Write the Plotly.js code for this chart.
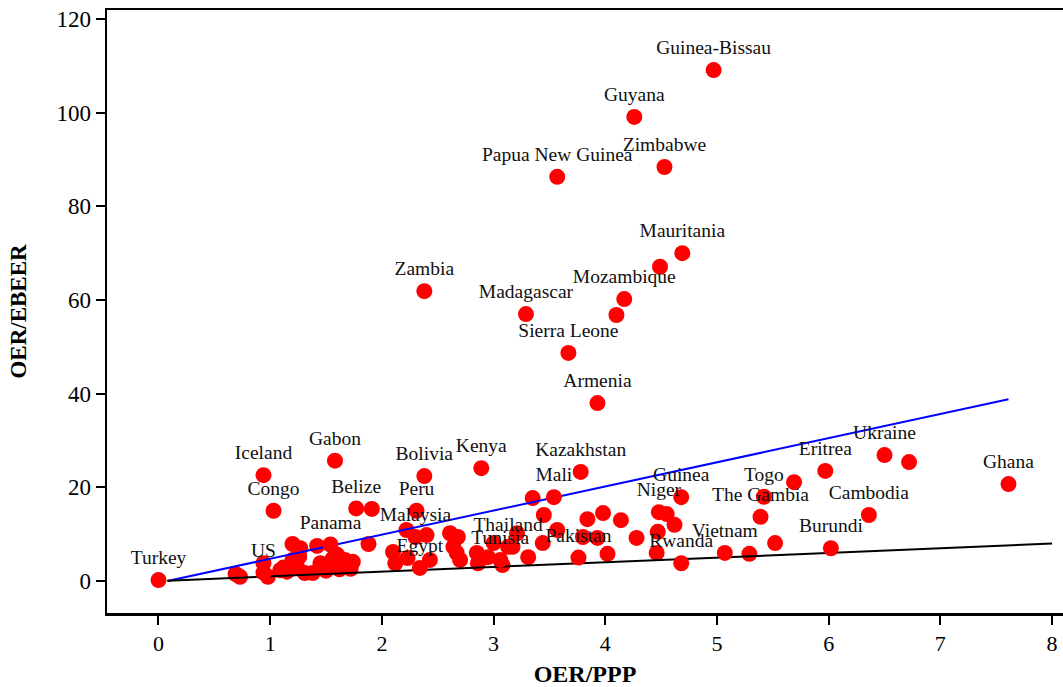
<!DOCTYPE html>
<html>
<head>
<meta charset="utf-8">
<script src="https://cdn.plot.ly/plotly-3.0.1.min.js"></script>
<style>
  html, body { margin: 0; padding: 0; background: #fff; }
  #chart { width: 1063px; height: 687px; }
</style>
</head>
<body>
<div id="chart"></div>
<script>
// Labelled countries: OER/PPP vs OER/EBEER
const labelNames = [
  "Turkey", "US", "Iceland", "Congo", "Gabon", "Panama", "Belize", "Bolivia",
  "Peru", "Malaysia", "Egypt", "Kenya", "Tunisia", "Thailand", "Kazakhstan",
  "Mali", "Pakistan", "Niger", "Guinea", "Rwanda", "Vietnam", "Togo",
  "The Gambia", "Eritrea", "Burundi", "Cambodia", "Ukraine", "Ghana",
  "Zambia", "Madagascar", "Sierra Leone", "Armenia", "Mozambique",
  "Mauritania", "Papua New Guinea", "Zimbabwe", "Guyana", "Guinea-Bissau"
];
const labelPPP = [
  0.00, 0.94, 0.94, 1.03, 1.58, 1.54, 1.77, 2.38,
  2.31, 2.30, 2.34, 2.89, 3.06, 3.13, 3.78,
  3.54, 3.76, 4.48, 4.68, 4.68, 5.07, 5.42,
  5.39, 5.97, 6.02, 6.36, 6.50, 7.61,
  2.38, 3.29, 3.67, 3.93, 4.17,
  4.69, 3.57, 4.53, 4.26, 4.97
];
const labelEBEER = [
  0.2, 1.8, 22.6, 15.0, 25.7, 7.8, 15.5, 22.4,
  15.0, 9.4, 2.8, 24.1, 4.5, 7.3, 23.3,
  17.9, 5.0, 14.7, 17.9, 3.8, 6.0, 18.0,
  13.7, 23.5, 7.0, 14.1, 26.9, 20.7,
  61.9, 57.0, 48.7, 38.0, 60.2,
  70.0, 86.3, 88.4, 99.1, 109.1
];

// Remaining countries (unlabelled)
const otherPPP = [
  4.49, 4.10, 5.69, 6.72, 1.91, 3.35,
  0.69, 0.73, 0.94, 0.98, 1.09, 1.15, 1.20, 1.27, 1.20, 1.24, 1.31,
  1.42, 1.60, 1.54, 1.45, 1.38, 1.69, 1.67, 1.74, 1.88, 2.10, 2.12,
  2.43, 2.23, 2.22, 2.40, 2.61, 2.68, 2.67, 2.70, 2.64, 2.85, 2.86,
  3.00, 3.08, 3.17, 2.95, 3.31, 3.21, 3.45, 3.57, 3.44, 3.84, 3.98,
  4.14, 3.80, 3.93, 4.02, 4.55, 4.62, 4.47, 4.46, 4.28, 5.29, 5.52,
  1.50, 1.56, 1.62, 1.72, 1.26, 1.12
];
const otherEBEER = [
  67.1, 56.8, 21.1, 25.4, 15.4, 17.7,
  1.5, 0.9, 3.8, 0.9, 2.3, 2.0, 7.9, 7.0, 4.5, 3.0, 1.7,
  7.5, 5.6, 3.0, 3.8, 1.7, 3.0, 4.5, 4.1, 7.9, 6.2, 3.8,
  4.5, 4.9, 10.9, 9.8, 10.2, 9.4, 6.0, 4.5, 7.3, 6.0, 3.8,
  8.1, 3.4, 7.3, 5.1, 5.1, 10.2, 14.1, 10.9, 8.1, 13.2, 14.5,
  13.0, 9.4, 9.2, 5.8, 14.3, 12.0, 10.5, 6.0, 9.2, 5.8, 8.1,
  2.2, 4.8, 2.5, 2.6, 5.2, 2.9
];

// Fitted line (blue) and 45-degree reference line (black)
const fitX = [0.08, 7.61];
const fitY = [0.0, 38.8];
const diagX = [0.08, 8.0];
const diagY = [0.08, 8.0];

const serif = "Liberation Serif, Times New Roman, serif";

const traces = [
  {
    x: otherPPP, y: otherEBEER, type: "scatter", mode: "markers",
    marker: { color: "#ff0000", size: 16 }, hoverinfo: "skip", cliponaxis: false
  },
  {
    x: fitX, y: fitY, type: "scatter", mode: "lines",
    line: { color: "#0000ff", width: 2 }, hoverinfo: "skip"
  },
  {
    x: diagX, y: diagY, type: "scatter", mode: "lines",
    line: { color: "#000000", width: 2 }, hoverinfo: "skip"
  },
  {
    x: labelPPP, y: labelEBEER, text: labelNames, type: "scatter",
    mode: "markers+text", textposition: "top center",
    textfont: { family: serif, size: 19.5, color: "#111" },
    marker: { color: "#ff0000", size: 16 }, hoverinfo: "skip", cliponaxis: false
  }
];

const layout = {
  width: 1063, height: 687,
  margin: { l: 107, r: 0, t: 10, b: 74 },
  paper_bgcolor: "#ffffff", plot_bgcolor: "#ffffff",
  showlegend: false,
  font: { family: serif, color: "#000" },
  xaxis: {
    range: [-0.461, 8.098], tickmode: "array",
    tickvals: [0, 1, 2, 3, 4, 5, 6, 7, 8],
    showgrid: false, zeroline: false,
    showline: true, linecolor: "#000", linewidth: 2.5, mirror: true,
    ticks: "outside", ticklen: 9, tickwidth: 2, tickcolor: "#000",
    tickfont: { family: serif, size: 22, color: "#000" },
    title: { text: "<b>OER/PPP</b>", font: { family: serif, size: 24, color: "#000" }, standoff: 12 },
    automargin: false
  },
  yaxis: {
    range: [-6.83, 121.93], tickmode: "array",
    tickvals: [0, 20, 40, 60, 80, 100, 120],
    showgrid: false, zeroline: false,
    showline: true, linecolor: "#000", linewidth: 2.5,
    ticks: "outside", ticklen: 9, tickwidth: 2, tickcolor: "#000",
    tickfont: { family: serif, size: 23, color: "#000" },
    title: { text: "<b>OER/EBEER</b>", font: { family: serif, size: 23, color: "#000" }, standoff: 24 },
    automargin: false
  }
};

Plotly.newPlot("chart", traces, layout, { displayModeBar: false, staticPlot: true });
</script>
</body>
</html>
